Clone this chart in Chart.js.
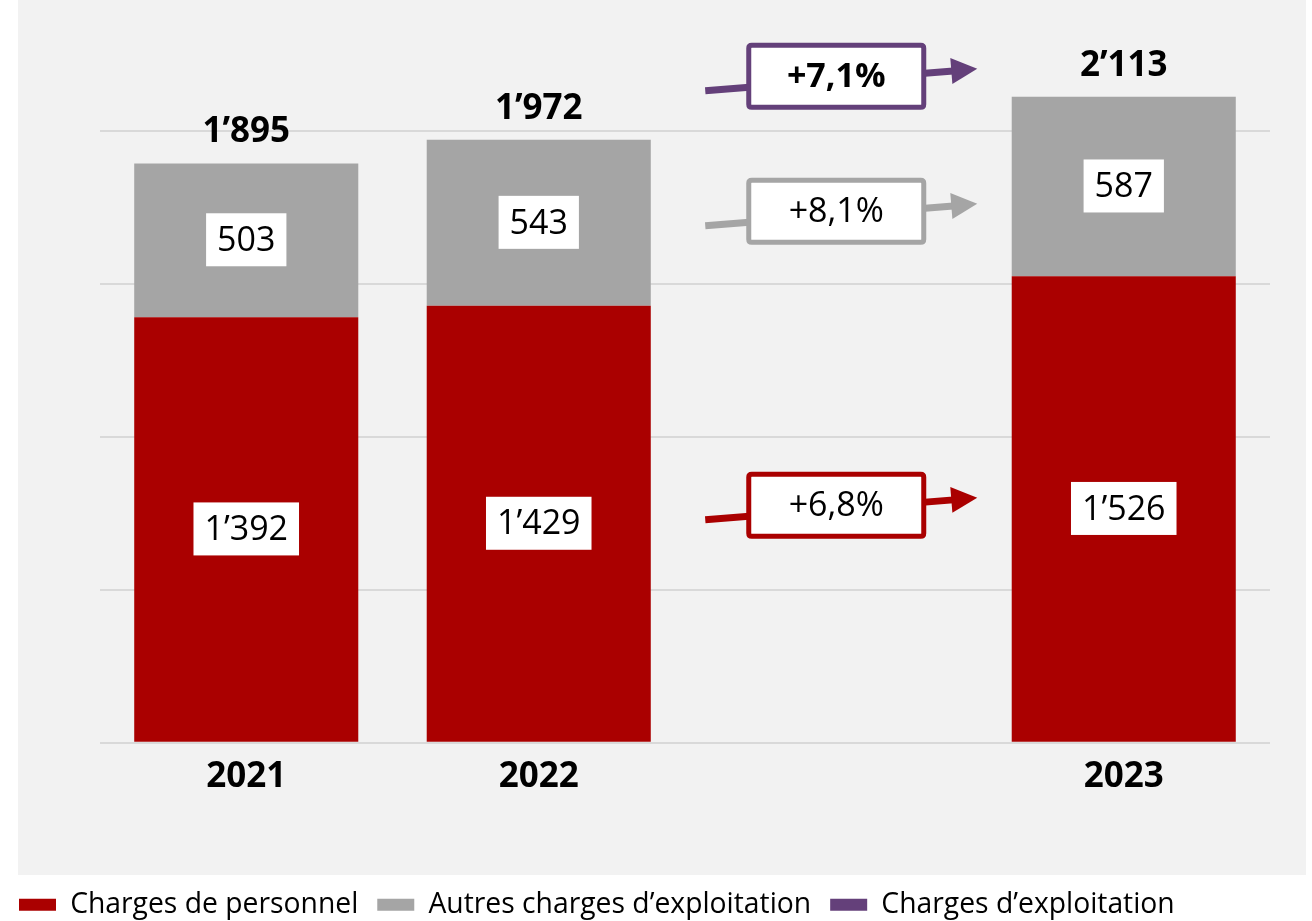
<!DOCTYPE html>
<html>
<head>
<meta charset="utf-8">
<script src="https://cdn.jsdelivr.net/npm/chart.js@4.4.0/dist/chart.umd.min.js"></script>
<style>
  html, body { margin: 0; padding: 0; background: #fff; }
  #wrap { width: 1312px; height: 921px; }
</style>
</head>
<body>
<div id="wrap"><canvas id="myChart"></canvas></div>
<script>
// Data
var years = ['2021', '2022', '', '2023'];
var personnel = [1392, 1429, null, 1526];
var autres = [503, 543, null, 587];
var totals = [1895, 1972, null, 2113];
var growth = ['+6,8%', '+8,1%', '+7,1%']; // personnel, autres, total (2022 -> 2023)
var gridTicks = [0, 500, 1000, 1500, 2000];
var seriesNames = ['Charges de personnel', 'Autres charges d\u2019exploitation', 'Charges d\u2019exploitation'];
var colors = ['#AA0000', '#A5A5A5', '#64407A'];

var FONT = '"Open Sans", "Noto Sans", sans-serif';

function fmt(v) {
    return String(v).replace(/\B(?=(\d{3})+(?!\d))/g, '\u2019');
}

function roundRect(c, x, y, w, h, r) {
    c.beginPath();
    c.moveTo(x + r, y);
    c.lineTo(x + w - r, y);
    c.quadraticCurveTo(x + w, y, x + w, y + r);
    c.lineTo(x + w, y + h - r);
    c.quadraticCurveTo(x + w, y + h, x + w - r, y + h);
    c.lineTo(x + r, y + h);
    c.quadraticCurveTo(x, y + h, x, y + h - r);
    c.lineTo(x, y + r);
    c.quadraticCurveTo(x, y, x + r, y);
    c.closePath();
}

// draws the arrow + percent box in the empty slot
function drawArrow(c, cx, y0, color, text, bold) {
    var x0 = cx - 126, x1 = cx + 146;
    var slope = -22 / 272;
    var yAt = function(x) { return y0 + (x - x0) * slope; };
    var ang = Math.atan2(yAt(x1) - y0, x1 - x0);
    var headLen = 26, headHalf = 13;
    var bx = x1 - headLen * Math.cos(ang), by = yAt(x1) - headLen * Math.sin(ang);

    c.save();
    c.strokeStyle = color;
    c.fillStyle = color;
    c.lineWidth = 7;
    c.beginPath();
    c.moveTo(x0, y0);
    c.lineTo(bx + 2, by);
    c.stroke();
    // head
    c.beginPath();
    c.moveTo(x1, yAt(x1));
    c.lineTo(bx - headHalf * Math.sin(ang), by + headHalf * Math.cos(ang));
    c.lineTo(bx + headHalf * Math.sin(ang), by - headHalf * Math.cos(ang));
    c.closePath();
    c.fill();

    // box
    var boxCx = cx + 5, boxCy = yAt(boxCx) - 4;
    roundRect(c, boxCx - 87.5, boxCy - 31, 175, 62, 3);
    c.fillStyle = '#fff';
    c.fill();
    c.lineWidth = 5;
    c.stroke();
    c.fillStyle = '#000';
    c.font = (bold ? 'bold ' : '') + '34px ' + FONT;
    c.textAlign = 'center';
    c.textBaseline = 'middle';
    c.fillText(text, boxCx, boxCy + 1);
    c.restore();
}

var annotations = {
    id: 'annotations',
    beforeDraw: function(chart) {
        var c = chart.ctx;
        c.save();
        c.fillStyle = '#F2F2F2';
        c.fillRect(18, 0, 1288, 875);
        c.restore();
    },
    afterDatasetsDraw: function(chart) {
        var c = chart.ctx;
        c.save();
        c.textAlign = 'center';
        c.textBaseline = 'middle';

        // value labels inside the segments
        [personnel, autres].forEach(function(arr, d) {
            var meta = chart.getDatasetMeta(d);
            meta.data.forEach(function(bar, i) {
                if (arr[i] == null) return;
                var cy = (bar.y + bar.base) / 2;
                var t = fmt(arr[i]);
                c.font = '34px ' + FONT;
                var w = c.measureText(t).width + 22;
                c.fillStyle = '#fff';
                c.fillRect(bar.x - w / 2, cy - 27, w, 53);
                c.fillStyle = '#000';
                c.fillText(t, bar.x, cy + 1);
            });
        });

        // totals above bars
        var top = chart.getDatasetMeta(1);
        c.font = 'bold 35px ' + FONT;
        c.fillStyle = '#000';
        totals.forEach(function(v, i) {
            if (v == null) return;
            c.fillText(fmt(v), top.data[i].x, top.data[i].y - 31);
        });
        c.restore();

        // growth arrows in the empty slot, starting from the 2022 bar
        var cx = chart.scales.x.getPixelForValue(2);
        var red = chart.getDatasetMeta(0).data[1];
        var gray = chart.getDatasetMeta(1).data[1];
        drawArrow(c, cx, (red.y + red.base) / 2 - 4, colors[0], growth[0], false);
        drawArrow(c, cx, (gray.y + gray.base) / 2 + 3, colors[1], growth[1], false);
        drawArrow(c, cx, gray.y - 49, colors[2], growth[2], true);
    }
};

var ctx = document.getElementById('myChart').getContext('2d');

var myChart = new Chart(ctx, {
    type: 'bar',
    data: {
        labels: years,
        datasets: [
            { label: seriesNames[0], data: personnel, backgroundColor: colors[0], borderWidth: 0 },
            { label: seriesNames[1], data: autres, backgroundColor: colors[1], borderWidth: 0 },
            { label: seriesNames[2], data: years.map(function() { return null; }), backgroundColor: colors[2], borderWidth: 0 }
        ]
    },
    options: {
        responsive: true,
        maintainAspectRatio: false,
        animation: false,
        datasets: { bar: { categoryPercentage: 1, barPercentage: 0.766 } },
        layout: { padding: { left: 0, right: 42, top: 9, bottom: -8 } },
        plugins: {
            tooltip: { enabled: false },
            legend: {
                position: 'bottom',
                align: 'start',
                labels: {
                    boxWidth: 37,
                    boxHeight: 12,
                    padding: 19,
                    color: '#000',
                    font: { family: FONT, size: 28.3 }
                }
            }
        },
        scales: {
            x: {
                stacked: true,
                grid: { display: false, drawTicks: false },
                border: { display: false },
                ticks: { color: '#000', font: { family: FONT, size: 35, weight: 'bold' }, padding: 13 },
                afterFit: function(scale) { scale.height = 129; }
            },
            y: {
                stacked: true,
                bounds: 'data',
                min: 0,
                max: 2400,
                ticks: { display: false },
                afterBuildTicks: function(scale) {
                    scale.ticks = gridTicks.map(function(v) { return { value: v }; });
                },
                border: { display: false },
                grid: {
                    drawTicks: false,
                    lineWidth: 2,
                    color: '#D9D9D9'
                },
                afterFit: function(scale) { scale.width = 100; }
            }
        }
    },
    plugins: [annotations]
});
</script>
</body>
</html>
